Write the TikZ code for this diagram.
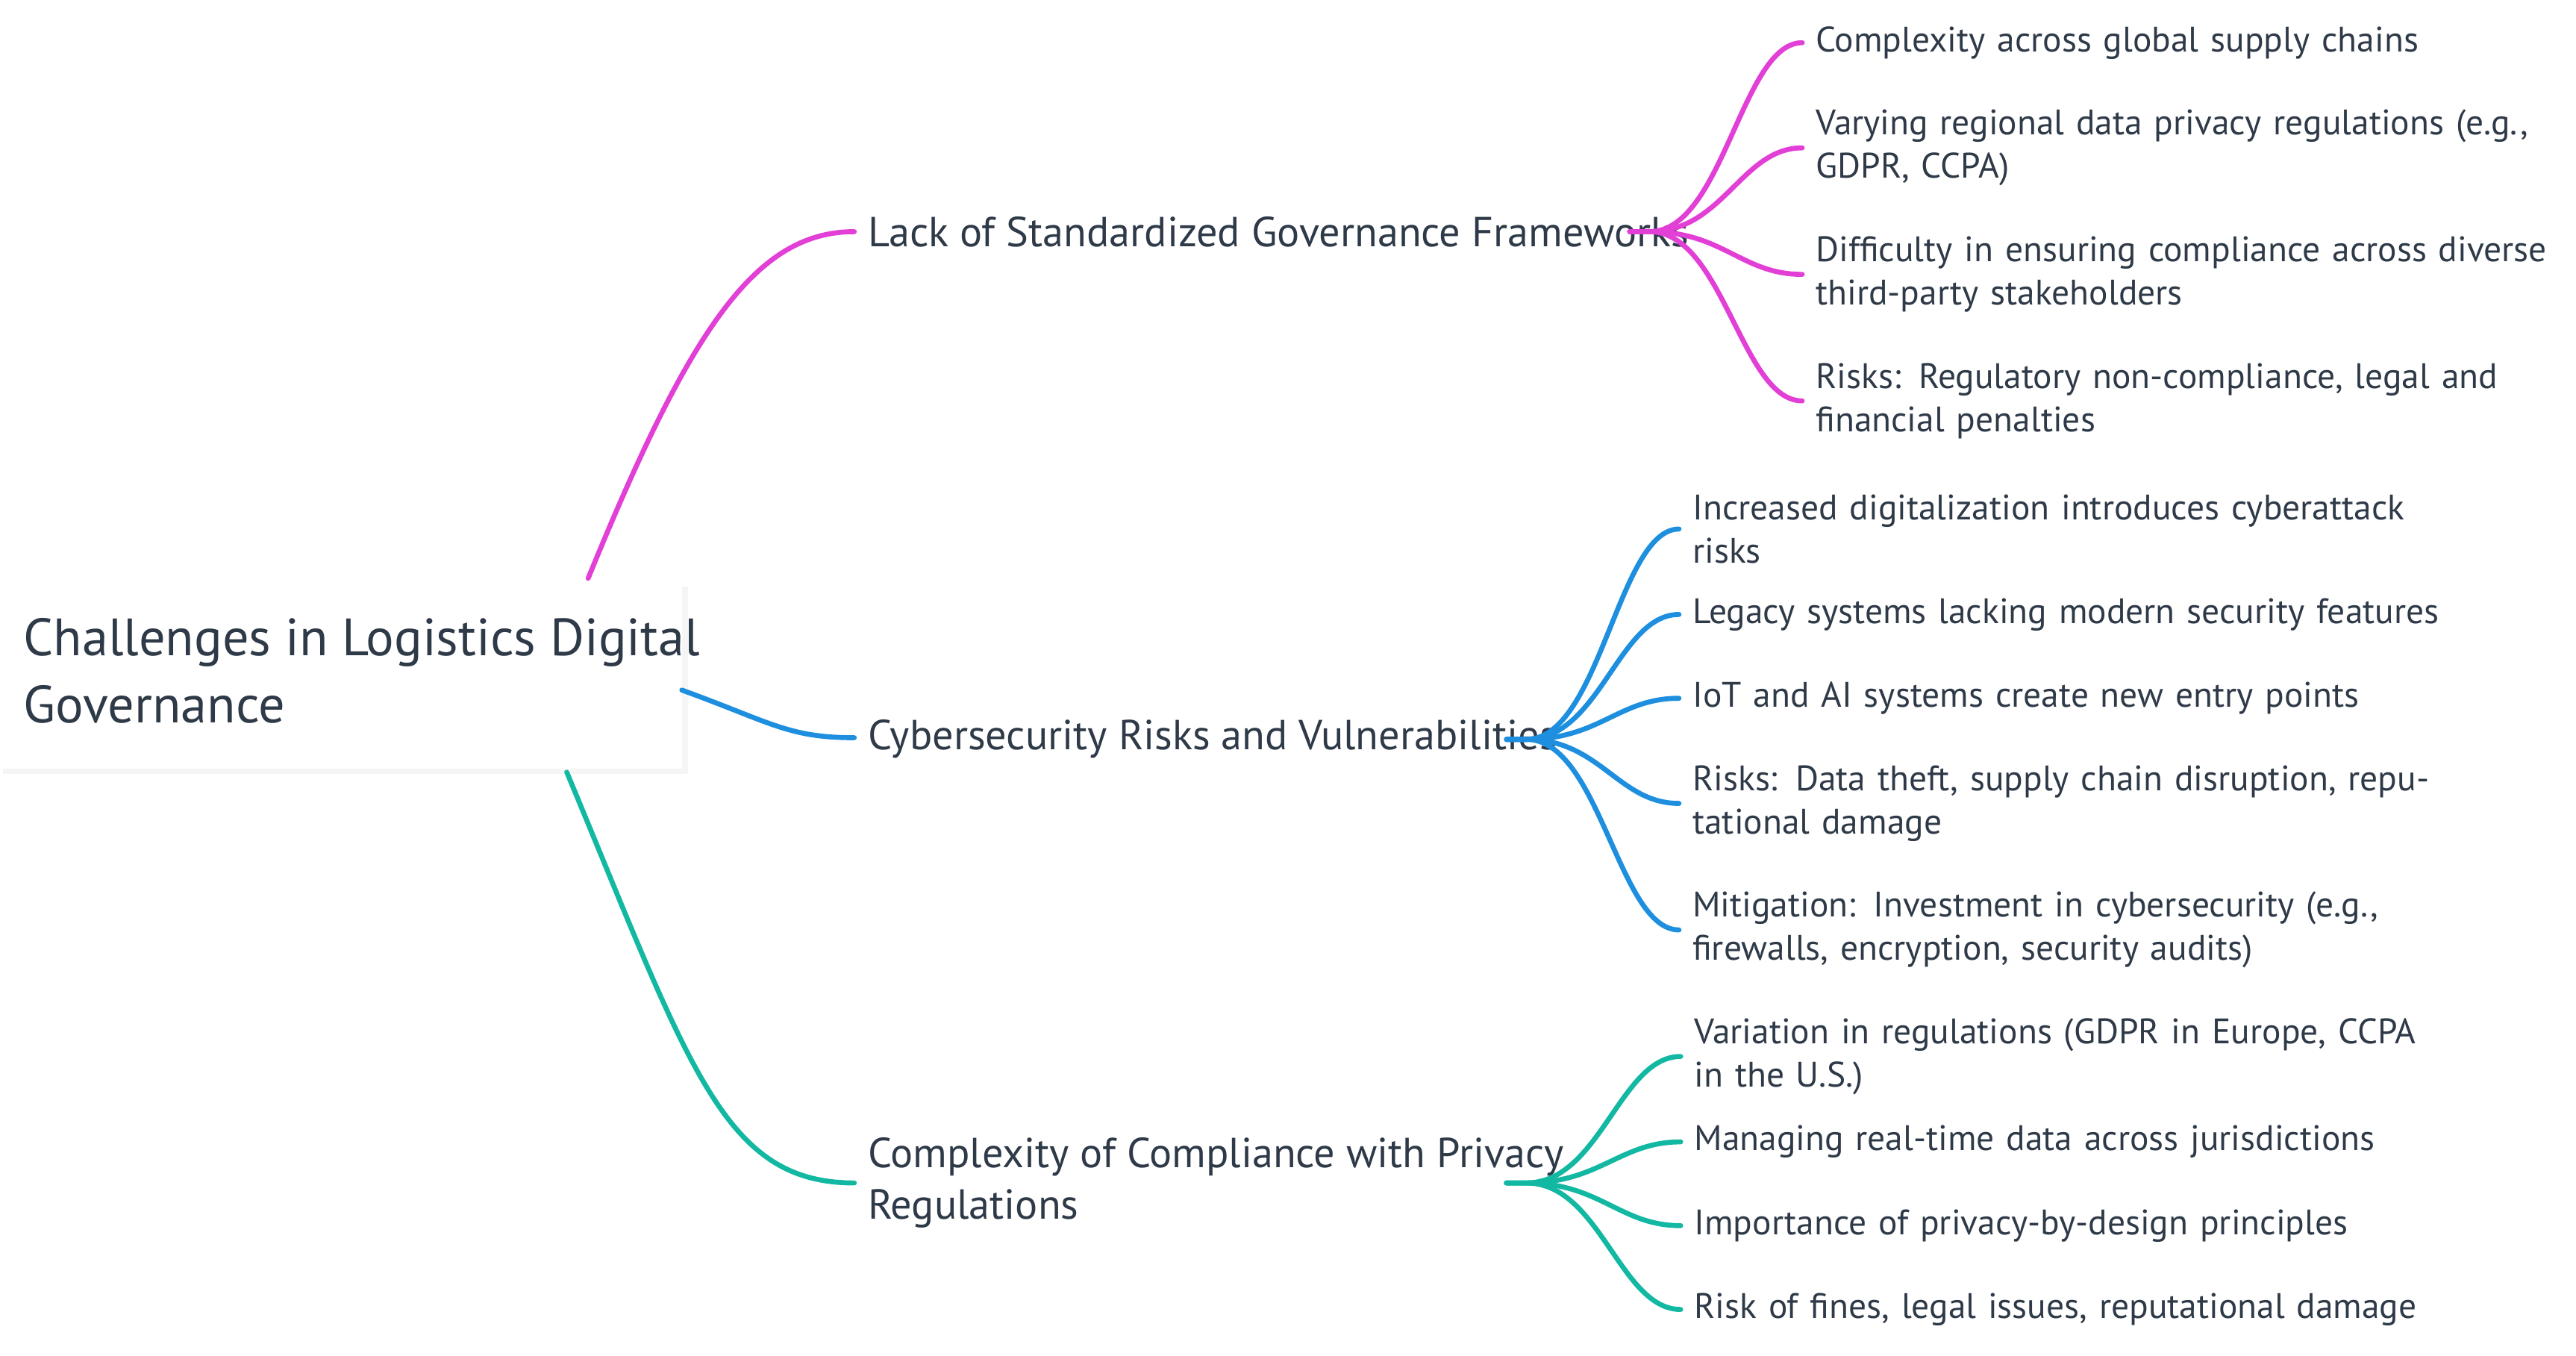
\documentclass[tikz,border=0pt]{standalone}
\usepackage{fontspec}
\usetikzlibrary{calc}
\setmainfont{PT Sans}
\definecolor{pk}{HTML}{E23FD6}
\definecolor{bl}{HTML}{1E8FDF}
\definecolor{tl}{HTML}{12B8A2}
\definecolor{tx}{HTML}{2F3A48}
\begin{document}
\begin{tikzpicture}[x=0.022cm,y=-0.022cm,
 leaf/.style={anchor=west,text=tx,font=\fontsize{13.5}{16.5}\selectfont,text width=10cm,align=left,inner sep=0pt},
 br/.style={anchor=west,text=tx,font=\fontsize{16}{19.5}\selectfont,align=left,inner sep=0pt},
 ln/.style={line width=1.9pt,line cap=round}]
\useasboundingbox (0,0) rectangle (1568,825);
\fill[black!4] (2,357) rectangle (419,471);
\fill[white] (0,355) rectangle (415,468);
\node[anchor=north west,text=tx,font=\fontsize{20}{25.5}\selectfont,align=left,inner sep=0pt] (root) at (14,376) {Challenges in Logistics Digital\\Governance};
\coordinate (rp) at (358,352);
\coordinate (rb) at (415,420);
\coordinate (rt) at (345,470);
\node[br] (b1) at (528,141) {Lack of Standardized Governance Frameworks};
\node[br] (b2) at (528,450) {Cybersecurity Risks and Vulnerabilities};
\node[br] (b3) at (528,720) {Complexity of Compliance with Privacy\\Regulations};
\coordinate (h1) at (992,141);
\coordinate (h2) at (917,450);
\coordinate (h3) at (917,720);
\draw[ln,pk] (rp) .. controls (420,200) and (460,141) .. (520,141);
\draw[ln,bl] (rb) .. controls (470,440) and (480,449) .. (520,449);
\draw[ln,tl] (rt) .. controls (420,650) and (440,720) .. (520,720);
\node[leaf] (p1) at (1105,26) {Complexity across global supply chains};
\node[leaf] (p2) at (1105,90) {Varying regional data privacy regulations (e.g., GDPR, CCPA)};
\node[leaf] (p3) at (1105,167) {Difficulty in ensuring compliance across diverse third-party stakeholders};
\node[leaf] (p4) at (1105,244) {Risks: Regulatory non-compliance, legal and financial penalties};
\node[leaf] (c1) at (1030,322) {Increased digitalization introduces cyberattack risks};
\node[leaf] (c2) at (1030,374) {Legacy systems lacking modern security features};
\node[leaf] (c3) at (1030,425) {IoT and AI systems create new entry points};
\node[leaf] (c4) at (1030,489) {Risks: Data theft, supply chain disruption, reputational damage};
\node[leaf] (c5) at (1030,566) {Mitigation: Investment in cybersecurity (e.g., firewalls, encryption, security audits)};
\node[leaf] (t1) at (1031,643) {Variation in regulations (GDPR in Europe, CCPA in the U.S.)};
\node[leaf] (t2) at (1031,695) {Managing real-time data across jurisdictions};
\node[leaf] (t3) at (1031,746) {Importance of privacy-by-design principles};
\node[leaf] (t4) at (1031,797) {Risk of fines, legal issues, reputational damage};
\foreach \n in {p1,p2,p3,p4}
  \draw[ln,pk] (h1) -- ++(12,0) .. controls +(45,0) and ($(\n.west)+(-45,0)$) .. ($(\n.west)+(-8,0)$);
\foreach \n in {c1,c2,c3,c4,c5}
  \draw[ln,bl] (h2) -- ++(12,0) .. controls +(45,0) and ($(\n.west)+(-45,0)$) .. ($(\n.west)+(-8,0)$);
\foreach \n in {t1,t2,t3,t4}
  \draw[ln,tl] (h3) -- ++(12,0) .. controls +(45,0) and ($(\n.west)+(-45,0)$) .. ($(\n.west)+(-8,0)$);
\end{tikzpicture}
\end{document}
